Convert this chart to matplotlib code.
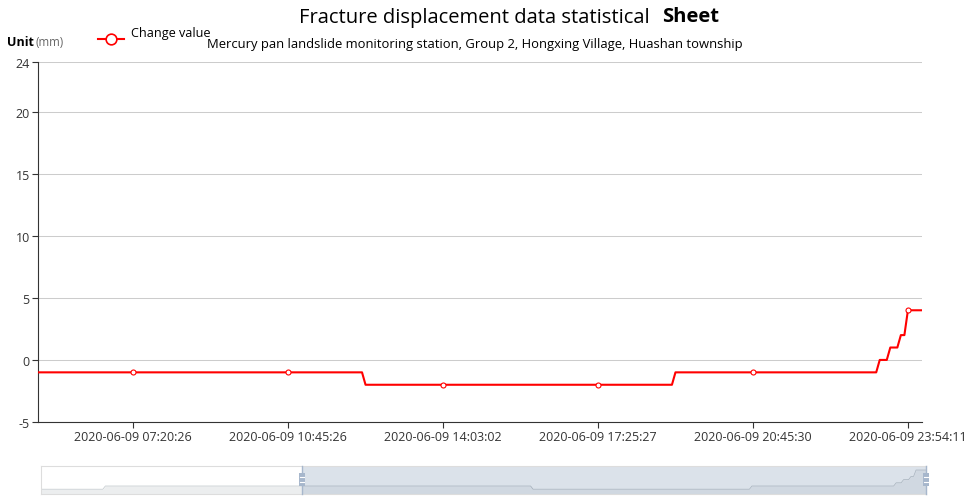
import numpy as np
import matplotlib
matplotlib.use('Agg')
import matplotlib.pyplot as plt
from matplotlib.patches import Rectangle

# ---- data ----
run_values = [-2, -1, -2, -1, 0, 1, 2, 4]
run_lengths = [26, 172, 88, 58, 3, 3, 2, 5]
tick_index = [132, 176, 220, 264, 308, 352]
tick_labels = ["2020-06-09 07:20:26", "2020-06-09 10:45:26", "2020-06-09 14:03:02",
               "2020-06-09 17:25:27", "2020-06-09 20:45:30", "2020-06-09 23:54:11"]
y_ticks = [-5, 0, 5, 10, 15, 20, 24]
zoom_start_index = 105
series_name = "Change value"
title_main = "Fracture displacement data statistical"
title_bold = "Sheet"
subtitle = "Mercury pan landslide monitoring station, Group 2, Hongxing Village, Huashan township"

values = np.repeat(run_values, run_lengths)
idx = np.arange(len(values))

plt.rcParams['font.family'] = ['Open Sans', 'DejaVu Sans']
plt.rcParams['axes.unicode_minus'] = False

W, H = 971, 502
fig = plt.figure(figsize=(W / 100, H / 100), dpi=100)


def px(x0, y0, x1, y1):
    return [x0 / W, 1 - y1 / H, (x1 - x0) / W, (y1 - y0) / H]


# ---- main chart ----
ax = fig.add_axes(px(38, 63, 922, 423))
ax.plot(idx, values, color='#ff0000', lw=1.5, marker='o', markevery=tick_index,
        ms=3.6, mfc='white', mec='#ff0000', mew=0.8, zorder=3)
ax.set_xlim(zoom_start_index, len(values) - 1)
ax.set_ylim(min(y_ticks), max(y_ticks))
ax.set_yticks(y_ticks)
ax.set_xticks(tick_index)
ax.set_xticklabels(tick_labels)
ax.grid(axis='y', color='#cccccc', lw=0.75)
ax.grid(axis='x', visible=False)
ax.set_axisbelow(True)
for s in ['top', 'right']:
    ax.spines[s].set_visible(False)
for s in ['left', 'bottom']:
    ax.spines[s].set_color('#333333')
    ax.spines[s].set_linewidth(0.8)
ax.tick_params(axis='both', colors='#333333', labelcolor='#333333', labelsize=9.0,
               length=4, width=0.8, direction='out')
ax.tick_params(axis='y', pad=2)
ax.tick_params(axis='x', pad=2)

# ---- data zoom slider ----
sx0, sy0, sx1, sy1 = 40.7, 466.7, 926, 495.3
ax2 = fig.add_axes(px(sx0, sy0, sx1, sy1))
ylo, yhi = -3.6, 5.35
ax2.set_xlim(0, len(values) - 1)
ax2.set_ylim(ylo, yhi)
ax2.fill_between(idx, values, ylo, color=(47 / 255, 69 / 255, 84 / 255, 0.09), lw=0)
ax2.plot(idx, values, color=(47 / 255, 69 / 255, 84 / 255), alpha=0.3, lw=0.5)
ax2.axvspan(zoom_start_index, len(values) - 1, color=(167 / 255, 183 / 255, 204 / 255, 0.4), lw=0)
ax2.set_xticks([])
ax2.set_yticks([])
for s in ax2.spines.values():
    s.set_color('#dddddd')
    s.set_linewidth(0.8)

per_px = (len(values) - 1) / (sx1 - sx0)
hw = 6.6 * per_px
tr = ax2.get_xaxis_transform()
for xi in [zoom_start_index, len(values) - 1]:
    ax2.plot([xi, xi], [0, 1], transform=tr, color='#a7b7cc', lw=1.0, clip_on=False, zorder=5)
    ax2.add_patch(Rectangle((xi - hw / 2, 0.30), hw, 0.434, transform=tr,
                            facecolor='#a7b7cc', edgecolor='none', clip_on=False, zorder=6))
    for yy in [0.43, 0.615]:
        ax2.plot([xi - hw * 0.3, xi + hw * 0.3], [yy, yy], transform=tr, color='white',
                 lw=0.8, clip_on=False, zorder=7)

# ---- texts / legend overlay ----
ov = fig.add_axes([0, 0, 1, 1], zorder=10)
ov.set_xlim(0, W)
ov.set_ylim(H, 0)
ov.axis('off')
ov.patch.set_alpha(0)

ov.text(650, 17.5, title_main, fontsize=14.5, ha='right', va='center', color='#000000')
ov.text(662, 17.5, title_bold, fontsize=14.5, ha='left', va='center', fontweight='bold', color='#000000')
ov.text(207, 44.5, subtitle, fontsize=9.4, ha='left', va='center', color='#000000')

ov.plot([98, 124], [40, 40], color='#ff0000', lw=1.5)
ov.plot([111.3], [40], marker='o', ms=7.7, mfc='white', mec='#ff0000', mew=1.2)
ov.text(131, 34, series_name, fontsize=9.1, ha='left', va='center', color='#000000')

ov.text(7.5, 42.5, "Unit", fontsize=9, fontweight='bold', ha='left', va='center', color='#000000')
ov.text(35.5, 42, "(mm)", fontsize=8.3, ha='left', va='center', color='#666666')

fig.savefig('out.png', dpi=100)
